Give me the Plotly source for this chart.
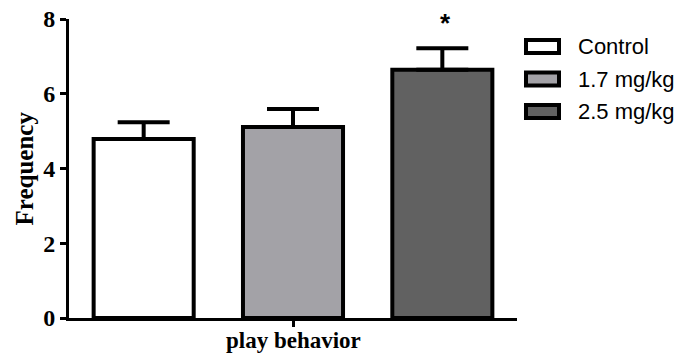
import plotly.graph_objects as go

# Group labels, means and SEM for the play-behavior measure
groups = ["Control", "1.7 mg/kg", "2.5 mg/kg"]
means = [4.79, 5.11, 6.64]
sems = [0.45, 0.48, 0.58]
fills = ["#ffffff", "#a3a2a7", "#616161"]
category = "play behavior"
y_ticks = [0, 2, 4, 6, 8]

SERIF = "Liberation Serif, Times New Roman, serif"
SANS = "Liberation Sans, Arial, sans-serif"

W, H = 686, 356
ML, MR, MT, MB = 69, 169, 19, 38
PW, PH = W - ML - MR, H - MT - MB

fig = go.Figure()
for name, m, s, c in zip(groups, means, sems, fills):
    fig.add_trace(go.Bar(
        name=name,
        x=[0],
        y=[m],
        marker=dict(color=c, line=dict(color="black", width=4)),
        error_y=dict(type="data", symmetric=False, array=[s], arrayminus=[0],
                     color="black", thickness=4, width=26),
        showlegend=False,
    ))

# significance marker above the highest dose
n = len(groups)
slot = 1.0 / n
fig.add_annotation(x=-0.5 + slot * (n - 0.5), y=means[-1] + sems[-1], xref="x", yref="y",
                   text="<b>*</b>", showarrow=False, yanchor="bottom", yshift=8, xshift=3,
                   font=dict(family=SANS, size=26, color="black"))

# y-axis title
fig.add_annotation(x=(24 - ML) / PW, y=0.5, xref="paper", yref="paper",
                   text="<b>Frequency</b>", textangle=-90, showarrow=False,
                   xanchor="center", yanchor="middle",
                   font=dict(family=SERIF, size=25, color="black"))

# category label under the single x tick
fig.add_annotation(x=0, y=(H - MB - 340) / PH, xref="x", yref="paper",
                   text="<b>" + category + "</b>", showarrow=False,
                   xanchor="center", yanchor="middle",
                   font=dict(family=SERIF, size=23, color="black"))

# legend drawn as boxes with labels
row_y = [46.5, 79, 111.5]
for name, c, py in zip(groups, fills, row_y):
    fig.add_shape(type="rect", xref="paper", yref="paper",
                  x0=(526 - ML) / PW, x1=(559 - ML) / PW,
                  y0=(H - MB - (py - 6.5)) / PH, y1=(H - MB - (py + 6.5)) / PH,
                  fillcolor=c, line=dict(color="black", width=4))
    fig.add_annotation(x=(576 - ML) / PW, y=(H - MB - py) / PH, xref="paper", yref="paper",
                       text=name, showarrow=False, xanchor="left", yanchor="middle",
                       font=dict(family=SANS, size=22, color="black"))

fig.update_layout(
    width=W, height=H,
    margin=dict(l=ML, r=MR, t=MT, b=MB),
    paper_bgcolor="white", plot_bgcolor="white",
    barmode="group", bargap=0, bargroupgap=0.33,
    xaxis=dict(range=[-0.5, 0.5], tickvals=[0], showticklabels=False,
               showline=True, linecolor="black", linewidth=3,
               ticks="outside", ticklen=6, tickwidth=3, tickcolor="black",
               showgrid=False, zeroline=False, fixedrange=True, automargin=False),
    yaxis=dict(range=[0, 8], tickvals=y_ticks, ticktext=["<b>%d</b>" % v for v in y_ticks],
               showline=True, linecolor="black", linewidth=3,
               ticks="outside", ticklen=6, tickwidth=3, tickcolor="black",
               showgrid=False, zeroline=False, fixedrange=True, automargin=False,
               tickfont=dict(family=SERIF, size=24, color="black")),
)

fig.write_html("out.html")
